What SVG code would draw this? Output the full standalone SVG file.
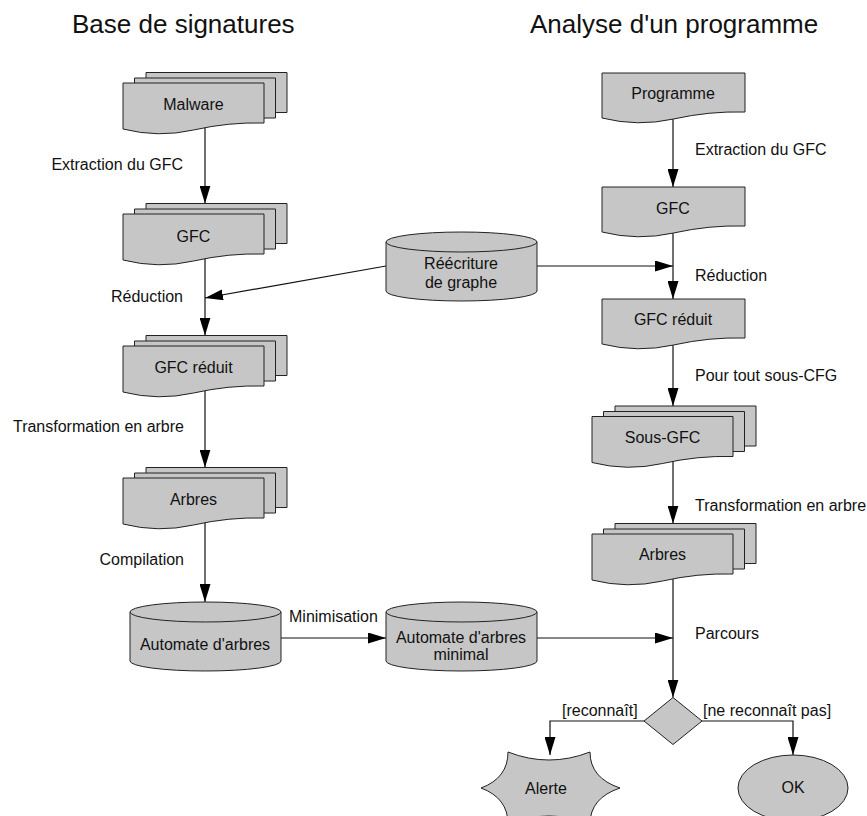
<svg xmlns="http://www.w3.org/2000/svg" xmlns:xlink="http://www.w3.org/1999/xlink" width="867" height="816" viewBox="0 0 867 816">
<style>
text{font-family:"Liberation Sans",Arial,sans-serif;font-size:16px;fill:#111}
.title{font-size:26px}
.mid{text-anchor:middle}
.end{text-anchor:end}
.shape{fill:#c6c6c6;stroke:#222;stroke-width:1}
.conn{fill:none;stroke:#111;stroke-width:1.2}
</style>
<defs>
<path id="doc" d="M0,0 H141 V40 Q105.75,39 70.5,47 Q35.25,55 0,46 Z"/>
<path id="doc1" d="M0,0 H143 V39 Q107.25,38 71.5,46 Q35.75,54 0,45 Z"/>
<marker id="arr" markerUnits="userSpaceOnUse" markerWidth="18" markerHeight="11" refX="18" refY="5.5" orient="auto">
<path d="M0,0 L18,5.5 L0,11 Z" fill="#000"/>
</marker>
</defs>
<rect width="867" height="816" fill="#fff"/>
<text class="title" x="72" y="33">Base de signatures</text>
<text class="title" x="530" y="33">Analyse d'un programme</text>

<g id="connectors">
<path class="conn" marker-end="url(#arr)" d="M205,120 V203.5"/>
<path class="conn" marker-end="url(#arr)" d="M205,252 V335.5"/>
<path class="conn" marker-end="url(#arr)" d="M205,384 V467.5"/>
<path class="conn" marker-end="url(#arr)" d="M205,516 V602"/>
<path class="conn" marker-end="url(#arr)" d="M386,266 L205,298"/>
<path class="conn" marker-end="url(#arr)" d="M537,266 H673"/>
<path class="conn" marker-end="url(#arr)" d="M281,638 H386"/>
<path class="conn" marker-end="url(#arr)" d="M537,638 H673"/>
<path class="conn" marker-end="url(#arr)" d="M673,112 V187"/>
<path class="conn" marker-end="url(#arr)" d="M673,226 V299"/>
<path class="conn" marker-end="url(#arr)" d="M673,338 V406"/>
<path class="conn" marker-end="url(#arr)" d="M673,456 V523.5"/>
<path class="conn" marker-end="url(#arr)" d="M673,572 V697.5"/>
<path class="conn" marker-end="url(#arr)" d="M644,721 H550 V755"/>
<path class="conn" marker-end="url(#arr)" d="M702,721 H793 V755"/>
<text class="end" x="183" y="170">Extraction du GFC</text>
<text class="end" x="183" y="302">Réduction</text>
<text class="end" x="184" y="432">Transformation en arbre</text>
<text class="end" x="184" y="565">Compilation</text>
<text x="289" y="622">Minimisation</text>
<text x="695" y="155">Extraction du GFC</text>
<text x="695" y="281">Réduction</text>
<text x="695" y="381">Pour tout sous-CFG</text>
<text x="695" y="511">Transformation en arbre</text>
<text x="695" y="639">Parcours</text>
<text x="562" y="716">[reconnaît]</text>
<text x="703" y="716">[ne reconnaît pas]</text>
</g>

<g id="malware">
<use class="shape" href="#doc" x="146" y="72.5"/>
<use class="shape" href="#doc" x="134.5" y="78"/>
<use class="shape" href="#doc" x="123" y="83"/>
<text class="mid" x="193.5" y="110">Malware</text>
</g>
<g id="gfc-l">
<use class="shape" href="#doc" x="146" y="203.5"/>
<use class="shape" href="#doc" x="134.5" y="209"/>
<use class="shape" href="#doc" x="123" y="214"/>
<text class="mid" x="193.5" y="241.5">GFC</text>
</g>
<g id="gfcr-l">
<use class="shape" href="#doc" x="146" y="335.5"/>
<use class="shape" href="#doc" x="134.5" y="341"/>
<use class="shape" href="#doc" x="123" y="346"/>
<text class="mid" x="193.5" y="373">GFC réduit</text>
</g>
<g id="arbres-l">
<use class="shape" href="#doc" x="146" y="467.5"/>
<use class="shape" href="#doc" x="134.5" y="473"/>
<use class="shape" href="#doc" x="123" y="478"/>
<text class="mid" x="193.5" y="505">Arbres</text>
</g>
<g id="rewrite">
<path class="shape" d="M386,242 V291 A75.5,10 0 0 0 537,291 V242 A75.5,10 0 0 0 386,242 Z"/>
<path class="shape" d="M386,242 A75.5,10 0 0 0 537,242"/>
<text class="mid" x="461" y="269">Réécriture</text>
<text class="mid" x="461" y="288">de graphe</text>
</g>
<g id="automate">
<path class="shape" d="M130,612 V661 A75.5,10 0 0 0 281,661 V612 A75.5,10 0 0 0 130,612 Z"/>
<path class="shape" d="M130,612 A75.5,10 0 0 0 281,612"/>
<text class="mid" x="205" y="650">Automate d'arbres</text>
</g>
<g id="automate-min">
<path class="shape" d="M386,612 V661 A75.5,10 0 0 0 537,661 V612 A75.5,10 0 0 0 386,612 Z"/>
<path class="shape" d="M386,612 A75.5,10 0 0 0 537,612"/>
<text class="mid" x="461" y="643">Automate d'arbres</text>
<text class="mid" x="461" y="660">minimal</text>
</g>
<g id="programme">
<use class="shape" href="#doc1" x="602" y="73"/>
<text class="mid" x="673" y="99">Programme</text>
</g>
<g id="gfc-r">
<use class="shape" href="#doc1" x="602" y="187"/>
<text class="mid" x="673" y="213.5">GFC</text>
</g>
<g id="gfcr-r">
<use class="shape" href="#doc1" x="602" y="299"/>
<text class="mid" x="673" y="325">GFC réduit</text>
</g>
<g id="sousgfc">
<use class="shape" href="#doc" x="615" y="406"/>
<use class="shape" href="#doc" x="603.5" y="411.5"/>
<use class="shape" href="#doc" x="592" y="416.5"/>
<text class="mid" x="662.5" y="443">Sous-GFC</text>
</g>
<g id="arbres-r">
<use class="shape" href="#doc" x="615" y="523.5"/>
<use class="shape" href="#doc" x="603.5" y="529"/>
<use class="shape" href="#doc" x="592" y="534"/>
<text class="mid" x="662.5" y="560">Arbres</text>
</g>
<g id="decision">
<path class="shape" d="M673,697.5 L702,721 L673,744.5 L644,721 Z"/>
</g>
<g id="alerte">
<path class="shape" d="M508,752 Q549,768 590,752 Q590,778 620,788 Q590,798 590,824 Q549,808 508,824 Q508,798 481,788 Q508,778 508,752 Z"/>
<text class="mid" x="546" y="794">Alerte</text>
</g>
<g id="ok">
<ellipse class="shape" cx="793" cy="788" rx="55" ry="33"/>
<text class="mid" x="793" y="793">OK</text>
</g>
</svg>
